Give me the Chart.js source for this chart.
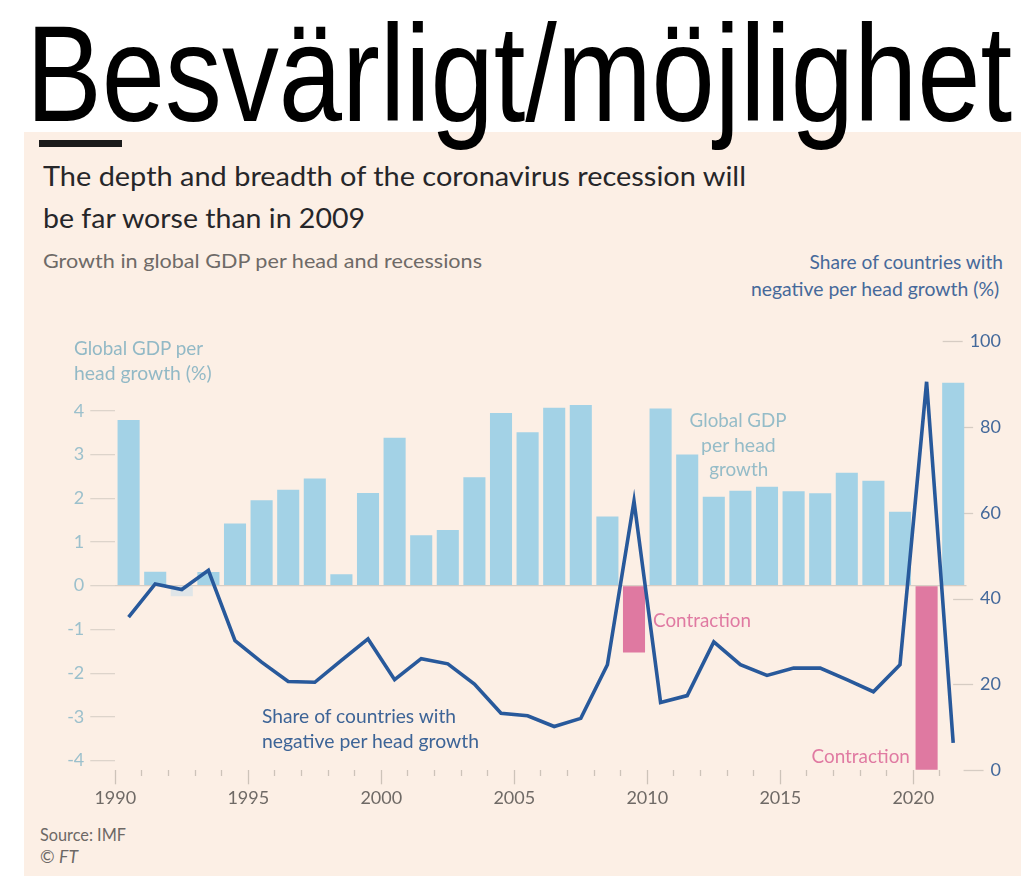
<!DOCTYPE html>
<html><head><meta charset="utf-8">
<script src="https://cdn.jsdelivr.net/npm/chart.js@4.4.1/dist/chart.umd.min.js"></script>
<style>
html,body{margin:0;padding:0;background:#fff;}
#page{position:relative;width:1036px;height:876px;overflow:hidden;background:#fff;}
#panel{position:absolute;left:24px;top:132px;width:997px;height:744px;background:#fcefe5;}
#fbar{position:absolute;left:39px;top:140px;width:83px;height:7px;background:#1b1b1b;}
#chartBox{position:absolute;left:0;top:300px;width:1036px;height:520px;}
.txt{position:absolute;white-space:nowrap;line-height:normal;z-index:5;}
</style></head>
<body>
<div id="page">
  <div id="panel"></div>
  <div id="fbar"></div>
  <div id="chartBox"><canvas id="c"></canvas></div>
</div>
<script>
// ---- data ----
const years = ['1990','1991','1992','1993','1994','1995','1996','1997','1998','1999',
               '2000','2001','2002','2003','2004','2005','2006','2007','2008','2009',
               '2010','2011','2012','2013','2014','2015','2016','2017','2018','2019',
               '2020','2021'];
const gdpPerHeadGrowth = [3.79, 0.32, -0.24, 0.31, 1.42, 1.95, 2.19, 2.45, 0.26, 2.12,
                          3.38, 1.15, 1.27, 2.48, 3.95, 3.51, 4.07, 4.13, 1.58, -1.53,
                          4.05, 3.00, 2.03, 2.17, 2.26, 2.16, 2.11, 2.58, 2.40, 1.69,
                          -4.21, 4.64];
const negativeShare = [35.7, 43.4, 42.1, 46.6, 30.2, 25.2, 20.7, 20.5, 25.6, 30.6,
                       21.1, 26.0, 24.8, 20.1, 13.3, 12.7, 10.2, 12.1, 24.6, 62.7,
                       15.8, 17.4, 29.9, 24.6, 22.1, 23.8, 23.8, 21.1, 18.3, 24.6,
                       90.5, 6.4];
const recessionYears = ['2009','2020'];
const leftTicks = [-4,-3,-2,-1,0,1,2,3,4];
const rightTicks = [0,20,40,60,80,100];

// ---- text helper (positions text by baseline, fits width) ----
const page = document.getElementById('page');
function place(txt, o){
  const d = document.createElement('div');
  d.className = 'txt';
  d.style.font = o.font;
  d.style.color = o.color;
  if (o.html) d.innerHTML = txt; else d.textContent = txt;
  const m = document.createElement('span');
  m.style.cssText = 'display:inline-block;width:0;height:0;vertical-align:baseline;';
  d.appendChild(m);
  page.appendChild(d);
  const base = m.offsetTop;
  const w = d.getBoundingClientRect().width;
  const s = o.w ? o.w / w : 1;
  let left, origin;
  if (o.align === 'right') { left = o.x - w; origin = 'right'; }
  else if (o.align === 'center') { left = o.x - w / 2; origin = 'center'; }
  else { left = o.x; origin = 'left'; }
  d.style.left = left + 'px';
  d.style.top = (o.y - base) + 'px';
  d.style.transformOrigin = origin + ' top';
  d.style.transform = 'scaleX(' + s + ')';
  return d;
}

const F = "'Lato', 'Open Sans', sans-serif";
place('Besvärligt/möjlighet', {x:26, y:121, w:986, font:"138px 'Liberation Sans Narrow', sans-serif", color:'#000'});
place('The depth and breadth of the coronavirus recession will', {x:42.7, y:186, w:703, font:'27px '+F, color:'#262629'});
place('be far worse than in 2009', {x:42.7, y:228, w:322, font:'27px '+F, color:'#262629'});
place('Growth in global GDP per head and recessions', {x:42.7, y:268.3, w:439, font:'20px '+F, color:'#6e6a67'});
place('Share of countries with', {x:1002.7, y:269, w:193.4, align:'right', font:'19px '+F, color:'#46699a'});
place('negative per head growth (%)', {x:999, y:295.7, w:248.3, align:'right', font:'19px '+F, color:'#46699a'});
place('Global GDP per', {x:74, y:355, w:129, font:'20px '+F, color:'#92b9c6'});
place('head growth (%)', {x:74, y:380, w:137.7, font:'20px '+F, color:'#92b9c6'});
place('Global GDP', {x:738.5, y:426.7, w:97, align:'center', font:'19px '+F, color:'#95bcc8'});
place('per head', {x:738.5, y:451.7, w:74.7, align:'center', font:'19px '+F, color:'#95bcc8'});
place('growth', {x:738.5, y:476, w:59, align:'center', font:'19px '+F, color:'#95bcc8'});
place('Contraction', {x:653, y:626.7, w:98, font:'19px '+F, color:'#e07aa2'});
place('Contraction', {x:910, y:762.7, w:98.4, align:'right', font:'19px '+F, color:'#e07aa2'});
place('Share of countries with', {x:261.7, y:723.3, w:194, font:'20px '+F, color:'#3d6497'});
place('negative per head growth', {x:262, y:748.3, w:217, font:'20px '+F, color:'#3d6497'});
place('Source: IMF', {x:40, y:840.7, w:86, font:'17px '+F, color:'#6d6865'});
place('© <i>FT</i>', {x:40, y:863, w:38, html:true, font:'17px '+F, color:'#6d6865'});

// right-axis tick marks: end a few px before each tick label (drawn from the y2 scale)
const rightTickMarks = {
  id:'rightTickMarks',
  beforeDatasetsDraw(chart){
    const s = chart.scales.y2, g = chart.ctx;
    g.save();
    g.font = '18px ' + F;
    g.strokeStyle = '#d6ccc3'; g.lineWidth = 1.3;
    s.ticks.forEach(t => {
      const y = Math.round(s.getPixelForValue(t.value)) + 0.5;
      const labelLeft = s.right - g.measureText(String(t.value)).width;
      g.beginPath(); g.moveTo(labelLeft - 27, y); g.lineTo(labelLeft - 7, y); g.stroke();
    });
    g.restore();
  }
};

// ---- chart ----
const BLUE = '#a3d2e6', PINK = '#df79a1', PALE = '#dfe5e8';
new Chart(document.getElementById('c'), {
  data: {
    labels: years,
    datasets: [
      {type:'line', label:'Share of countries with negative per head growth (%)', data: negativeShare,
       yAxisID:'y2', borderColor:'#28599b', borderWidth:3.6, pointRadius:0, tension:0, fill:false, order:0},
      {type:'bar', label:'Global GDP per head growth (%)', data: gdpPerHeadGrowth, yAxisID:'y', order:1,
       barPercentage:0.83, categoryPercentage:1,
       backgroundColor: c => recessionYears.includes(years[c.dataIndex]) ? PINK : (c.raw < 0 ? PALE : BLUE)}
    ]
  },
  plugins:[rightTickMarks],
  options: {
    responsive:true, maintainAspectRatio:false, animation:false,
    layout:{padding:{top:41, right:35, bottom:0, left:0}},
    plugins:{legend:{display:false}, tooltip:{enabled:false}},
    events:[],
    scales:{
      x:{type:'category', offset:true, border:{display:false},
         grid:{offset:true, drawOnChartArea:false, drawTicks:true, tickLength:14, tickWidth:1.3,
               tickColor: c => (c.index !== undefined && c.index < years.length) ? '#cdc3b9' : 'rgba(0,0,0,0)',
               tickBorderDash: c => (c.index !== undefined && Number(years[c.index]) % 5 === 0) ? [] : [6, 40]},
         ticks:{autoSkip:false, maxRotation:0, minRotation:0, labelOffset:-13.3, padding:3,
                color:'#6f6a66', font:{family:F, size:18},
                callback:(v,i) => Number(years[i]) % 5 === 0 ? years[i] : ''},
         afterFit: s => { s.height = 49.7; }},
      y:{position:'left', min:-4.22, max:5.593, border:{display:false},
         grid:{color: c => (c.tick && c.tick.value === 0) ? '#d8cec5' : 'rgba(0,0,0,0)',
               tickColor:'#ddd4cb', tickLength:25, lineWidth:1.3},
         ticks:{color:'#9cc0cc', font:{family:F, size:18}, padding:6},
         afterBuildTicks: s => { s.ticks = leftTicks.map(v => ({value:v})); },
         afterFit: s => { s.width = 115.3; }},
      y2:{position:'right', min:0, max:100, border:{display:false},
          grid:{display:false, drawOnChartArea:false},
          ticks:{color:'#44699b', font:{family:F, size:18}, crossAlign:'far'},
          afterBuildTicks: s => { s.ticks = rightTicks.map(v => ({value:v})); },
          afterFit: s => { s.width = 34.5; }}
    }
  }
});
</script>
</body></html>
